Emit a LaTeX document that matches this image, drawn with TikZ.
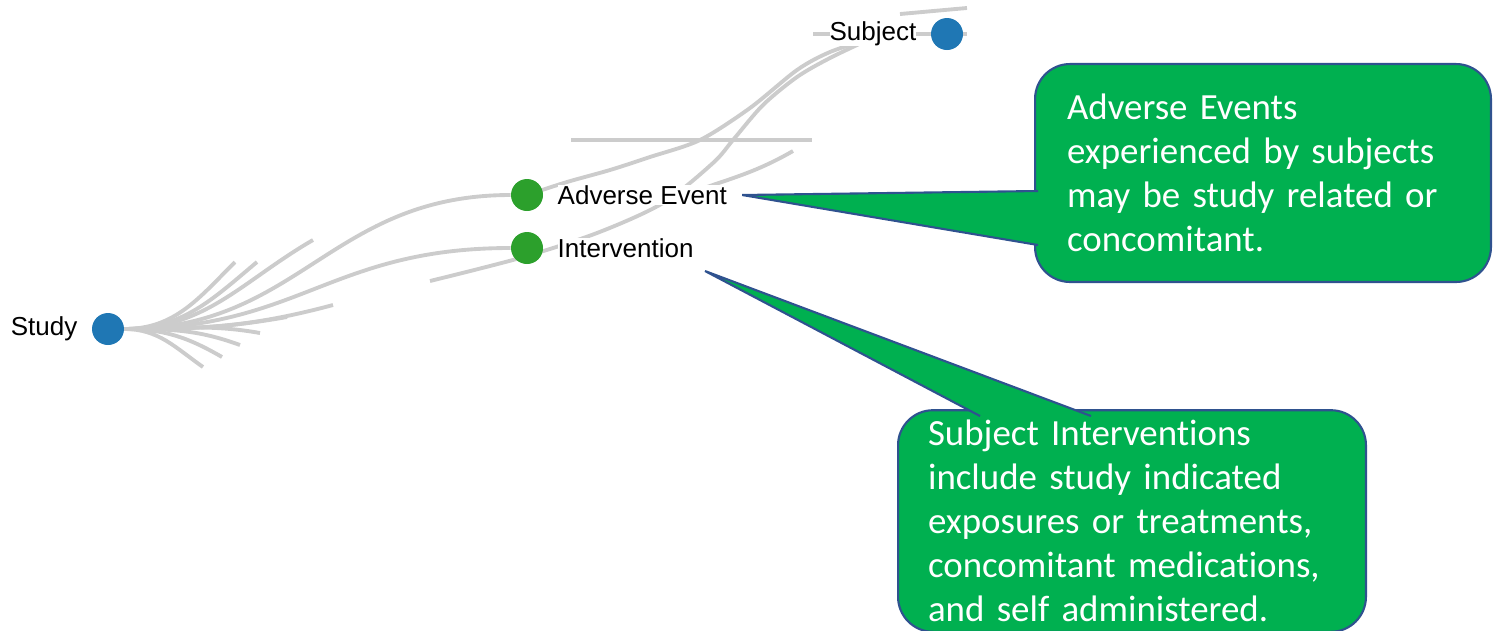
\documentclass[tikz,border=0pt]{standalone}
\usepackage{fontspec}
\setmainfont{Carlito}[Ligatures=NoCommon]
\newfontfamily\treefont{Liberation Sans}
\usetikzlibrary{positioning,backgrounds}
\definecolor{nodeblue}{RGB}{31,119,180}
\definecolor{nodegreen}{RGB}{44,160,44}
\definecolor{linkgray}{RGB}{204,204,204}
\definecolor{notegreen}{RGB}{0,176,80}
\definecolor{noteedge}{RGB}{47,82,143}

\tikzset{
  dot/.style={circle,minimum size=0.64cm,inner sep=0pt},
  lbl/.style={font=\treefont\fontsize{14.8}{16}\selectfont,inner sep=0pt,fill=white},
  link/.style={linkgray,line width=2.2pt},
  notebox/.style={fill=notegreen,draw=noteedge,line width=1.2pt,rounded corners=0.7cm,
    align=left,text=white,font=\fontsize{21}{25}\selectfont,inner ysep=0.2cm},
  pointer/.style={draw=noteedge,line width=1.2pt,line join=miter}
}

\begin{document}
\begin{tikzpicture}[x=0.02cm,y=-0.02cm]
  \useasboundingbox (0,0) rectangle (1494,630);

  % tree nodes
  \node[dot,fill=nodeblue] (study) at (108,329) {};
  \node[lbl,left=0.28cm of study] (studylbl) {Study};
  \node[dot,fill=nodeblue] (subject) at (947,34) {};
  \node[lbl,left=0.28cm of subject] (subjectlbl) {Subject};
  \node[dot,fill=nodegreen] (adverse) at (527,195) {};
  \node[lbl,right=0.28cm of adverse] (adverselbl) {Adverse Event};
  \node[dot,fill=nodegreen] (intervention) at (527,248) {};
  \node[lbl,right=0.28cm of intervention] (interventionlbl) {Intervention};

  % links
  \begin{scope}[on background layer]
    \draw[link] (study.east) .. controls (300,329) and (330,195) .. (adverse.west);
    \draw[link] (study.east) .. controls (300,329) and (330,248) .. (intervention.west);
    \foreach \ex/\ey/\ang in {235/262/225,257/262/220,313/240/210,333/305/195,
        287/317/190,260/333/170,240/345/160,222/357/150,203/367/145}
      \draw[link] (study.east) to[out=0,in=\ang] (\ex,\ey);
    \coordinate (sb) at (430,281);
    \coordinate (sj) at (872,38);
    \draw[link] plot[smooth] coordinates {(adverse.center) (567,182) (610,170)
      (650,157) (700,140) (750,108) (797,70) (830,52) (sj)};
    \draw[link] plot[smooth] coordinates {(sb) (520,258) (597,233) (663,203)
      (713,163) (733,140) (763,105) (797,77) (830,58) (sj)};
    \draw[link] (684,195) to[out=20,in=210] (793,151);
    \draw[link] (571,140) -- (812,140);
    \draw[link] (813,34) -- (subject.center) -- (967,34);
    \draw[link] (900,14) to[out=5,in=185] (967,8);
  \end{scope}

  % callout for adverse events
  \node[notebox,minimum width=9.12cm,minimum height=4.36cm,text width=7.84cm,
    inner xsep=0.64cm] (aenote) at (1263,173)
    {Adverse Events\\experienced by subjects\\may be study related or\\concomitant.};
  \coordinate (aetip) at ([xshift=0.3cm]adverselbl.east);
  \coordinate (aebasea) at (1038,191);
  \coordinate (aebaseb) at (1038,245);
  \fill[notegreen] (aebasea) -- (aetip) -- (aebaseb) -- cycle;
  \draw[pointer] (aebasea) -- (aetip) -- (aebaseb);

  % callout for interventions
  \node[notebox,minimum width=9.36cm,minimum height=4.3cm,text width=8.16cm,
    inner xsep=0.6cm] (ivnote) at (1132,521)
    {Subject Interventions\\include study indicated\\exposures or treatments,\\concomitant medications,\\and self administered.};
  \coordinate (ivtip) at (705,271);
  \coordinate (ivbasea) at (980,416);
  \coordinate (ivbaseb) at (1091,416);
  \fill[notegreen] (ivbasea) -- (ivtip) -- (ivbaseb) -- cycle;
  \draw[pointer] (ivbasea) -- (ivtip) -- (ivbaseb);
\end{tikzpicture}
\end{document}
